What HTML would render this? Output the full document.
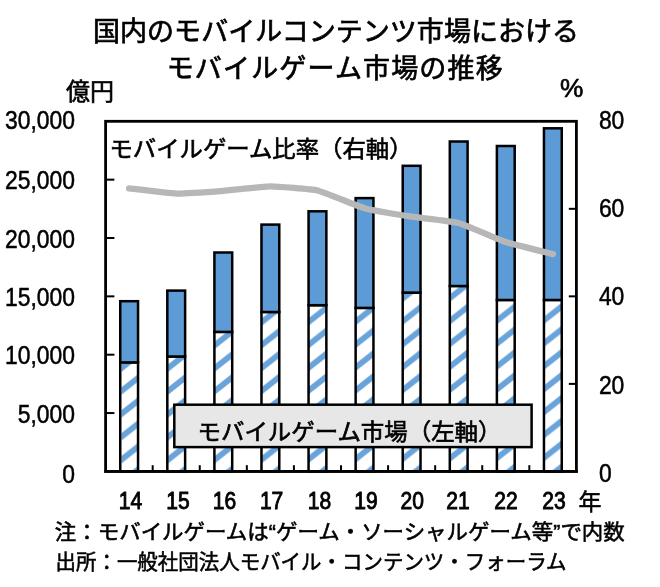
<!DOCTYPE html>
<html lang="ja"><head><meta charset="utf-8"><title>国内のモバイルコンテンツ市場におけるモバイルゲーム市場の推移</title>
<style>html,body{margin:0;padding:0;background:#fff}svg{display:block}text{font-family:"Liberation Sans","Noto Sans CJK JP",sans-serif;fill:#000;stroke:#000;stroke-width:0.5px}</style></head><body>
<svg width="660" height="587" viewBox="0 0 660 587">
<defs>
<pattern id="hatch" patternUnits="userSpaceOnUse" x="121.49" y="391" width="46.68" height="22.9"><rect x="-5" y="-5" width="60" height="40" fill="#fff"/><path d="M-4,6.86 L24,-15.26 L24,-22.66 L-4,-0.54Z M-4,29.76 L24,7.64 L24,0.24 L-4,22.36Z M-4,52.66 L24,30.54 L24,23.14 L-4,45.26Z" fill="#68a3da"/></pattern>
<filter id="soft" x="-2%" y="-2%" width="104%" height="104%"><feGaussianBlur stdDeviation="0.45"/></filter>
</defs>
<rect width="660" height="587" fill="#fff"/>
<g filter="url(#soft)">
<rect x="105.6" y="121.3" width="470.8" height="350.1" fill="#fff" stroke="#000" stroke-width="2.8"/>
<line x1="105.6" x2="114.4" y1="413.05" y2="413.05" stroke="#000" stroke-width="2"/>
<line x1="105.6" x2="114.4" y1="354.7" y2="354.7" stroke="#000" stroke-width="2"/>
<line x1="105.6" x2="114.4" y1="296.35" y2="296.35" stroke="#000" stroke-width="2"/>
<line x1="105.6" x2="114.4" y1="238" y2="238" stroke="#000" stroke-width="2"/>
<line x1="105.6" x2="114.4" y1="179.65" y2="179.65" stroke="#000" stroke-width="2"/>
<line x1="576.4" x2="568.8" y1="383.88" y2="383.88" stroke="#000" stroke-width="2"/>
<line x1="576.4" x2="568.8" y1="296.35" y2="296.35" stroke="#000" stroke-width="2"/>
<line x1="576.4" x2="568.8" y1="208.82" y2="208.82" stroke="#000" stroke-width="2"/>
<line x1="152.68" x2="152.68" y1="471.4" y2="465.2" stroke="#000" stroke-width="2"/>
<line x1="199.76" x2="199.76" y1="471.4" y2="465.2" stroke="#000" stroke-width="2"/>
<line x1="246.84" x2="246.84" y1="471.4" y2="465.2" stroke="#000" stroke-width="2"/>
<line x1="293.92" x2="293.92" y1="471.4" y2="465.2" stroke="#000" stroke-width="2"/>
<line x1="341" x2="341" y1="471.4" y2="465.2" stroke="#000" stroke-width="2"/>
<line x1="388.08" x2="388.08" y1="471.4" y2="465.2" stroke="#000" stroke-width="2"/>
<line x1="435.16" x2="435.16" y1="471.4" y2="465.2" stroke="#000" stroke-width="2"/>
<line x1="482.24" x2="482.24" y1="471.4" y2="465.2" stroke="#000" stroke-width="2"/>
<line x1="529.32" x2="529.32" y1="471.4" y2="465.2" stroke="#000" stroke-width="2"/>
<rect x="120.24" y="362.4" width="17.8" height="109" fill="url(#hatch)" stroke="#000" stroke-width="2.5"/>
<rect x="120.24" y="301.2" width="17.8" height="61.2" fill="#5b9bd5" stroke="#000" stroke-width="2.5"/>
<rect x="167.32" y="356.5" width="17.8" height="114.9" fill="url(#hatch)" stroke="#000" stroke-width="2.5"/>
<rect x="167.32" y="290.6" width="17.8" height="65.9" fill="#5b9bd5" stroke="#000" stroke-width="2.5"/>
<rect x="214.4" y="331.9" width="17.8" height="139.5" fill="url(#hatch)" stroke="#000" stroke-width="2.5"/>
<rect x="214.4" y="252.5" width="17.8" height="79.4" fill="#5b9bd5" stroke="#000" stroke-width="2.5"/>
<rect x="261.48" y="312" width="17.8" height="159.4" fill="url(#hatch)" stroke="#000" stroke-width="2.5"/>
<rect x="261.48" y="224.6" width="17.8" height="87.4" fill="#5b9bd5" stroke="#000" stroke-width="2.5"/>
<rect x="308.56" y="305.2" width="17.8" height="166.2" fill="url(#hatch)" stroke="#000" stroke-width="2.5"/>
<rect x="308.56" y="211.3" width="17.8" height="93.9" fill="#5b9bd5" stroke="#000" stroke-width="2.5"/>
<rect x="355.64" y="307.9" width="17.8" height="163.5" fill="url(#hatch)" stroke="#000" stroke-width="2.5"/>
<rect x="355.64" y="198.1" width="17.8" height="109.8" fill="#5b9bd5" stroke="#000" stroke-width="2.5"/>
<rect x="402.72" y="292.6" width="17.8" height="178.8" fill="url(#hatch)" stroke="#000" stroke-width="2.5"/>
<rect x="402.72" y="165.8" width="17.8" height="126.8" fill="#5b9bd5" stroke="#000" stroke-width="2.5"/>
<rect x="449.8" y="286" width="17.8" height="185.4" fill="url(#hatch)" stroke="#000" stroke-width="2.5"/>
<rect x="449.8" y="141.5" width="17.8" height="144.5" fill="#5b9bd5" stroke="#000" stroke-width="2.5"/>
<rect x="496.88" y="300" width="17.8" height="171.4" fill="url(#hatch)" stroke="#000" stroke-width="2.5"/>
<rect x="496.88" y="146" width="17.8" height="154" fill="#5b9bd5" stroke="#000" stroke-width="2.5"/>
<rect x="543.96" y="300" width="17.8" height="171.4" fill="url(#hatch)" stroke="#000" stroke-width="2.5"/>
<rect x="543.96" y="128.3" width="17.8" height="171.7" fill="#5b9bd5" stroke="#000" stroke-width="2.5"/>
<line x1="104.2" x2="577.8" y1="471.4" y2="471.4" stroke="#000" stroke-width="2.6"/>
<path d="M129.14,188.4 C131.96,188.71 170.57,193.45 176.22,193.6 C181.87,193.75 217.65,191.33 223.3,190.9 C228.95,190.47 264.73,186.42 270.38,186.4 C276.03,186.38 311.81,189.19 317.46,190.5 C323.11,191.81 358.89,206.63 364.54,208.2 C370.19,209.77 405.97,215.81 411.62,216.7 C417.27,217.59 453.05,221.48 458.7,223 C464.35,224.52 500.13,240.13 505.78,242 C511.43,243.87 550.04,253.37 552.86,254.1" fill="none" stroke="#b7b7b7" stroke-width="6.3" stroke-linecap="round" stroke-linejoin="round"/>
<rect x="174.3" y="404.7" width="357.3" height="42.4" fill="#e7e7e7" stroke="#000" stroke-width="2.5"/>
<text transform="translate(74.9,482.5) scale(0.915,1)" font-size="25" text-anchor="end">0</text>
<text transform="translate(74.9,422.55) scale(0.915,1)" font-size="25" text-anchor="end">5,000</text>
<text transform="translate(74.9,364.2) scale(0.915,1)" font-size="25" text-anchor="end">10,000</text>
<text transform="translate(74.9,305.65) scale(0.915,1)" font-size="25" text-anchor="end">15,000</text>
<text transform="translate(74.9,247.9) scale(0.915,1)" font-size="25" text-anchor="end">20,000</text>
<text transform="translate(74.9,188.55) scale(0.915,1)" font-size="25" text-anchor="end">25,000</text>
<text transform="translate(74.9,129) scale(0.915,1)" font-size="25" text-anchor="end">30,000</text>
<text transform="translate(598.9,481.8) scale(0.915,1)" font-size="25" text-anchor="start">0</text>
<text transform="translate(598.9,393.57) scale(0.915,1)" font-size="25" text-anchor="start">20</text>
<text transform="translate(598.9,304.95) scale(0.915,1)" font-size="25" text-anchor="start">40</text>
<text transform="translate(598.9,217.02) scale(0.915,1)" font-size="25" text-anchor="start">60</text>
<text transform="translate(598.9,128.7) scale(0.915,1)" font-size="25" text-anchor="start">80</text>
<text transform="translate(560,97.1) scale(1.05,1)" font-size="25" text-anchor="start" style="stroke-width:0.6px">%</text>
<text x="93" y="40.5" font-size="27" textLength="486" lengthAdjust="spacing" style="stroke-width:0.7px">国内のモバイルコンテンツ市場における</text>
<text x="166.7" y="78" font-size="27" textLength="336" lengthAdjust="spacing" style="stroke-width:0.7px">モバイルゲーム市場の推移</text>
<text x="66" y="99.5" font-size="24" style="stroke-width:0.65px">億円</text>
<text x="109.5" y="157" font-size="23" textLength="303" lengthAdjust="spacingAndGlyphs" style="stroke-width:0.65px">モバイルゲーム比率（右軸）</text>
<text x="197.5" y="440" font-size="23" textLength="304" lengthAdjust="spacingAndGlyphs" style="stroke-width:0.65px">モバイルゲーム市場（左軸）</text>
<text x="54.8" y="539" font-size="21" textLength="570" lengthAdjust="spacingAndGlyphs" style="stroke-width:0.55px">注：モバイルゲームは“ゲーム・ソーシャルゲーム等”で内数</text>
<text x="55.5" y="569" font-size="21" textLength="511" lengthAdjust="spacingAndGlyphs" style="stroke-width:0.55px">出所：一般社団法人モバイル・コンテンツ・フォーラム</text>
<text transform="translate(130.5,509.3) scale(0.915,1)" font-size="23" text-anchor="middle" style="stroke-width:0.85px">14</text>
<text transform="translate(178,509.3) scale(0.915,1)" font-size="23" text-anchor="middle" style="stroke-width:0.85px">15</text>
<text transform="translate(224.4,509.3) scale(0.915,1)" font-size="23" text-anchor="middle" style="stroke-width:0.85px">16</text>
<text transform="translate(271.6,509.3) scale(0.915,1)" font-size="23" text-anchor="middle" style="stroke-width:0.85px">17</text>
<text transform="translate(319.5,509.3) scale(0.915,1)" font-size="23" text-anchor="middle" style="stroke-width:0.85px">18</text>
<text transform="translate(366,509.3) scale(0.915,1)" font-size="23" text-anchor="middle" style="stroke-width:0.85px">19</text>
<text transform="translate(412.3,509.3) scale(0.915,1)" font-size="23" text-anchor="middle" style="stroke-width:0.85px">20</text>
<text transform="translate(458,509.3) scale(0.915,1)" font-size="23" text-anchor="middle" style="stroke-width:0.85px">21</text>
<text transform="translate(505.9,509.3) scale(0.915,1)" font-size="23" text-anchor="middle" style="stroke-width:0.85px">22</text>
<text transform="translate(553.9,509.3) scale(0.915,1)" font-size="23" text-anchor="middle" style="stroke-width:0.85px">23</text>
<text x="578.5" y="510" font-size="23" style="stroke-width:0.55px">年</text>
</g>
</svg></body></html>
